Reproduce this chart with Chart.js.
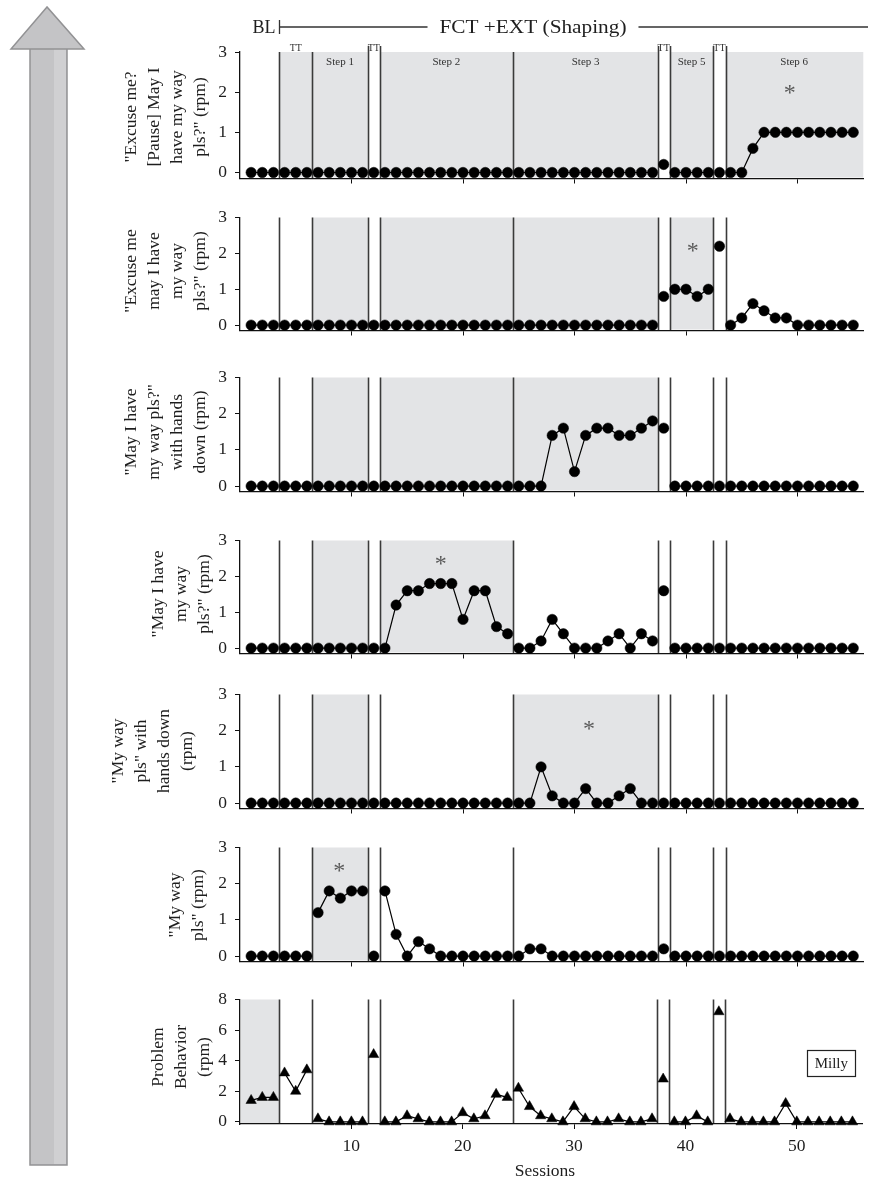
<!DOCTYPE html>
<html><head><meta charset="utf-8">
<script src="https://cdn.jsdelivr.net/npm/chart.js@4.4.0/dist/chart.umd.min.js"></script>
<style>
html,body{margin:0;padding:0;background:#fff;}
#wrap{position:relative;width:869px;height:1186px;overflow:hidden;background:#fff;}
#wrap canvas{position:absolute;left:0;}
#arrow{position:absolute;left:0;top:0;}
</style></head><body>
<div id="wrap">
<svg id="arrow" width="100" height="1186" xmlns="http://www.w3.org/2000/svg">
  <rect x="30" y="48" width="37" height="1117" fill="#c4c4c6" stroke="#929294" stroke-width="1.5"/>
  <rect x="54" y="49" width="12" height="1115" fill="#d0d0d2"/>
  <polygon points="47,7 11,49 84,49" fill="#c4c4c6" stroke="#929294" stroke-width="1.5"/>
</svg>
</div>
<script>
// ---------------- data ----------------
const sessions = [1,2,3,4,5,6,7,8,9,10,11,12,13,14,15,16,17,18,19,20,21,22,23,24,25,26,27,28,29,30,31,32,33,34,35,36,37,38,39,40,41,42,43,44,45,46,47,48,49,50,51,52,53,54,55];
const xTickValues = [10,20,30,40,50];
const rpmTicks = [0,1,2,3];
const problemTicks = [0,2,4,6,8];
const phaseLines = [3.5, 6.5, 11.45, 12.55, 24.5, 37.45, 38.55, 42.45, 43.55];

const excusePauseRpm = [0,0,0,0,0,0,0,0,0,0, 0,0,0,0,0,0,0,0,0,0, 0,0,0,0,0,0,0,0,0,0, 0,0,0,0,0,0,0,0.2,0,0, 0,0,0,0,0,0.6,1,1,1,1, 1,1,1,1,1];
const excuseMeRpm = [0,0,0,0,0,0,0,0,0,0, 0,0,0,0,0,0,0,0,0,0, 0,0,0,0,0,0,0,0,0,0, 0,0,0,0,0,0,0,0.8,1,1, 0.8,1,2.2,0,0.2,0.6,0.4,0.2,0.2,0, 0,0,0,0,0];
const mayIHandsDownRpm = [0,0,0,0,0,0,0,0,0,0, 0,0,0,0,0,0,0,0,0,0, 0,0,0,0,0,0,0,1.4,1.6,0.4, 1.4,1.6,1.6,1.4,1.4,1.6,1.8,1.6,0,0, 0,0,0,0,0,0,0,0,0,0, 0,0,0,0,0];
const mayIHaveRpm = [0,0,0,0,0,0,0,0,0,0, 0,0,0,1.2,1.6,1.6,1.8,1.8,1.8,0.8, 1.6,1.6,0.6,0.4,0,0,0.2,0.8,0.4,0, 0,0,0.2,0.4,0,0.4,0.2,1.6,0,0, 0,0,0,0,0,0,0,0,0,0, 0,0,0,0,0];
const myWayHandsDownRpm = [0,0,0,0,0,0,0,0,0,0, 0,0,0,0,0,0,0,0,0,0, 0,0,0,0,0,0,1.0,0.2,0,0, 0.4,0,0,0.2,0.4,0,0,0,0,0, 0,0,0,0,0,0,0,0,0,0, 0,0,0,0,0];
const myWayRpm = [0,0,0,0,0,0,1.2,1.8,1.6,1.8, 1.8,0,1.8,0.6,0,0.4,0.2,0,0,0, 0,0,0,0,0,0.2,0.2,0,0,0, 0,0,0,0,0,0,0,0.2,0,0, 0,0,0,0,0,0,0,0,0,0, 0,0,0,0,0];
const problemBehaviorRpm = [1.4,1.6,1.6,3.2,2.0,3.4,0.2,0,0,0, 0,4.4,0,0,0.4,0.2,0,0,0,0.6, 0.2,0.4,1.8,1.6,2.2,1.0,0.4,0.2,0,1.0, 0.2,0,0,0.2,0,0,0.2,2.8,0,0, 0.4,0,7.2,0.2,0,0,0,0,1.2,0, 0,0,0,0,0];

const stepLabels = ['Step 1','Step 2','Step 3','Step 5','Step 6'];
const stepLabelSessions = [8.97, 18.5, 31, 40.5, 49.7];
const ttSessions = [5, 12, 38, 43];

// ---------------- drawing ----------------
const SERIF = '"Liberation Serif", "DejaVu Serif", serif';
const SHADE = '#e3e4e6';
const X_MAX = 55.9;
const wrap = document.getElementById('wrap');

function seriesWithBreaks(values) {
  const out = [];
  sessions.forEach((s, i) => {
    if (i > 0) {
      const prev = sessions[i - 1];
      const b = phaseLines.find(p => p > prev && p < s);
      if (b !== undefined) out.push({x: b, y: null});
    }
    out.push({x: s, y: values[i]});
  });
  return out;
}

const decor = {
  id: 'decor',
  beforeDraw(chart, args, o) {
    const {ctx, chartArea: ca, scales: {x}} = chart;
    ctx.save();
    ctx.fillStyle = SHADE;
    for (const [a, b] of o.shade) {
      const xa = Math.max(x.getPixelForValue(a), ca.left + 1);
      const xb = Math.min(x.getPixelForValue(b), ca.right);
      ctx.fillRect(xa, ca.top, xb - xa, ca.bottom - ca.top - 1);
    }
    ctx.strokeStyle = '#3a3a3a';
    ctx.lineWidth = 1.6;
    for (const p of phaseLines) {
      const px = Math.round(x.getPixelForValue(p)) + 0.5;
      const isDouble = p % 1 !== 0.5;
      const topY = (o.first && isDouble) ? ca.top - 6 : ca.top;
      ctx.beginPath(); ctx.moveTo(px, topY); ctx.lineTo(px, ca.bottom); ctx.stroke();
    }
    ctx.restore();
  },
  afterDraw(chart, args, o) {
    const {ctx, chartArea: ca, scales: {x, y}} = chart;
    ctx.save();
    // y-axis title lines (rotated)
    ctx.fillStyle = '#1e1e1e';
    ctx.font = '17.5px ' + SERIF;
    ctx.textAlign = 'center';
    ctx.textBaseline = 'middle';
    o.title.forEach((t, i) => {
      ctx.save();
      ctx.translate(o.titleX[i], o.titleY - o.canvasTop);
      ctx.rotate(-Math.PI / 2);
      ctx.fillText(t, 0, 0);
      ctx.restore();
    });
    // asterisk
    if (o.star) {
      ctx.fillStyle = '#5a5a5a';
      ctx.font = '24px ' + SERIF;
      ctx.fillText('*', x.getPixelForValue(o.star[0]), y.getPixelForValue(o.star[1]) + 6);
    }
    if (o.first) {
      // step labels
      ctx.fillStyle = '#333';
      ctx.font = '11px ' + SERIF;
      stepLabels.forEach((s, i) => ctx.fillText(s, x.getPixelForValue(stepLabelSessions[i]), ca.top + 10));
      // TT labels
      ctx.font = '10px ' + SERIF;
      ctx.textBaseline = 'alphabetic';
      ttSessions.forEach(s => ctx.fillText('TT', x.getPixelForValue(s), ca.top - 1));
      // header
      const hy = 27;
      const bx = Math.round(x.getPixelForValue(3.5)) + 0.5;
      ctx.fillStyle = '#1e1e1e';
      ctx.font = '18px ' + SERIF;
      ctx.textAlign = 'right';
      ctx.textBaseline = 'middle';
      ctx.fillText('BL', bx - 4, hy + 1);
      const label = 'FCT +EXT (Shaping)';
      ctx.textAlign = 'center';
      const cx = 533;
      ctx.font = '19px ' + SERIF;
      const w = ctx.measureText(label).width * 1.12;
      ctx.save();
      ctx.translate(cx, hy + 1);
      ctx.scale(1.12, 1);
      ctx.fillText(label, 0, 0);
      ctx.restore();
      ctx.strokeStyle = '#333';
      ctx.lineWidth = 1.3;
      ctx.beginPath();
      ctx.moveTo(bx, hy - 7); ctx.lineTo(bx, hy + 7);
      ctx.moveTo(bx, hy); ctx.lineTo(cx - w / 2 - 12, hy);
      ctx.moveTo(cx + w / 2 + 12, hy); ctx.lineTo(868, hy);
      ctx.stroke();
    }
    if (o.last) {
      // Milly box
      const mx = x.getPixelForValue(53.1), my = y.getPixelForValue(3.85);
      ctx.font = '15px ' + SERIF;
      ctx.fillStyle = '#1e1e1e';
      ctx.textAlign = 'center';
      ctx.textBaseline = 'middle';
      ctx.fillText('Milly', mx, my + 1);
      ctx.strokeStyle = '#222';
      ctx.lineWidth = 1.2;
      ctx.strokeRect(Math.round(mx - 24) + 0.5, Math.round(my - 13) + 0.5, 48, 26);
      // x title
      ctx.font = '17.5px ' + SERIF;
      ctx.fillText('Sessions', 545, 1171 - o.canvasTop);
    }
    ctx.restore();
  }
};

function makePanel(p) {
  const canvas = document.createElement('canvas');
  const cTop = p.top - p.padTop;
  const h = p.bottom - p.top + p.padTop + p.xh;
  canvas.width = 869; canvas.height = h;
  canvas.style.top = cTop + 'px';
  canvas.style.width = '869px'; canvas.style.height = h + 'px';
  wrap.appendChild(canvas);
  const isLast = !!p.last;
  new Chart(canvas, {
    type: 'line',
    data: {datasets: [{
      data: seriesWithBreaks(p.values),
      borderColor: '#000', borderWidth: 1.2,
      pointStyle: p.marker, pointRadius: p.marker === 'triangle' ? 6 : 5.2,
      pointBackgroundColor: '#000', pointBorderColor: '#000', pointBorderWidth: 0.5,
      tension: 0, spanGaps: false, clip: false
    }]},
    options: {
      responsive: false, animation: false, devicePixelRatio: 1,
      layout: {padding: {top: p.padTop, right: 4, bottom: 0, left: 0}},
      plugins: {
        legend: {display: false}, tooltip: {enabled: false},
        decor: {shade: p.shade, title: p.title, titleX: p.titleX, titleY: p.titleY,
                canvasTop: cTop, star: p.star, first: !!p.first, last: isLast}
      },
      scales: {
        x: {
          type: 'linear', min: 0, max: X_MAX,
          afterFit: s => { s.height = p.xh; },
          afterBuildTicks: s => { s.ticks = xTickValues.map(v => ({value: v})); },
          grid: {display: true, drawOnChartArea: false, drawTicks: true, tickLength: 5, color: '#111', lineWidth: 1},
          border: {display: true, color: '#111', width: 1.3},
          ticks: {display: isLast, color: '#1e1e1e', font: {family: SERIF, size: 17.5}, padding: 7, maxRotation: 0}
        },
        y: {
          type: 'linear', min: p.min, max: p.max,
          afterFit: s => { s.width = 240; },
          afterBuildTicks: s => { s.ticks = p.ticks.map(v => ({value: v})); },
          grid: {display: true, drawOnChartArea: false, drawTicks: true, tickLength: 5, color: '#111', lineWidth: 1},
          border: {display: true, color: '#111', width: 1.3},
          ticks: {color: '#1e1e1e', font: {family: SERIF, size: 17.5}, padding: 8}
        }
      }
    },
    plugins: [decor]
  });
}

const titleXs4 = [131, 154, 177, 200];
makePanel({values: excusePauseRpm, top: 52, bottom: 189, padTop: 52, xh: 8, min: -0.15, max: 3, ticks: rpmTicks, marker: 'circle',
  shade: [[3.5, 11.45], [12.55, 37.45], [38.55, 42.45], [43.55, X_MAX]],
  title: ['"Excuse me?', '[Pause] May I', 'have my way', 'pls?" (rpm)'], titleX: titleXs4, titleY: 117,
  star: [49.3, 2.1], first: true});
makePanel({values: excuseMeRpm, top: 205, bottom: 341, padTop: 6, xh: 8, min: -0.15, max: 3, ticks: rpmTicks, marker: 'circle',
  shade: [[6.5, 11.45], [12.55, 37.45], [38.55, 42.45]],
  title: ['"Excuse me', 'may I have', 'my way', 'pls?" (rpm)'], titleX: titleXs4, titleY: 271,
  star: [40.6, 2.2]});
makePanel({values: mayIHandsDownRpm, top: 365, bottom: 502, padTop: 6, xh: 8, min: -0.15, max: 3, ticks: rpmTicks, marker: 'circle',
  shade: [[6.5, 11.45], [12.55, 37.45]],
  title: ['"May I have', 'my way pls?"', 'with hands', 'down (rpm)'], titleX: titleXs4, titleY: 432});
makePanel({values: mayIHaveRpm, top: 528, bottom: 664, padTop: 6, xh: 8, min: -0.15, max: 3, ticks: rpmTicks, marker: 'circle',
  shade: [[6.5, 11.45], [12.55, 24.5]],
  title: ['"May I have', 'my way', 'pls?" (rpm)'], titleX: [158, 181, 204], titleY: 594,
  star: [18, 2.5]});
makePanel({values: myWayHandsDownRpm, top: 682, bottom: 819, padTop: 6, xh: 8, min: -0.15, max: 3, ticks: rpmTicks, marker: 'circle',
  shade: [[6.5, 11.45], [24.5, 37.45]],
  title: ['"My way', 'pls" with', 'hands down', '(rpm)'], titleX: [118, 141, 164, 187], titleY: 751,
  star: [31.3, 2.2]});
makePanel({values: myWayRpm, top: 835, bottom: 972, padTop: 6, xh: 8, min: -0.15, max: 3, ticks: rpmTicks, marker: 'circle',
  shade: [[6.5, 11.45]],
  title: ['"My way', 'pls" (rpm)'], titleX: [175, 198], titleY: 905,
  star: [8.9, 2.5]});
makePanel({values: problemBehaviorRpm, top: 987, bottom: 1124, padTop: 6, xh: 62, min: -0.14, max: 8, ticks: problemTicks, marker: 'triangle',
  shade: [[0, 3.5]],
  title: ['Problem', 'Behavior', '(rpm)'], titleX: [158, 181, 204], titleY: 1057, last: true});
</script>
</body></html>
